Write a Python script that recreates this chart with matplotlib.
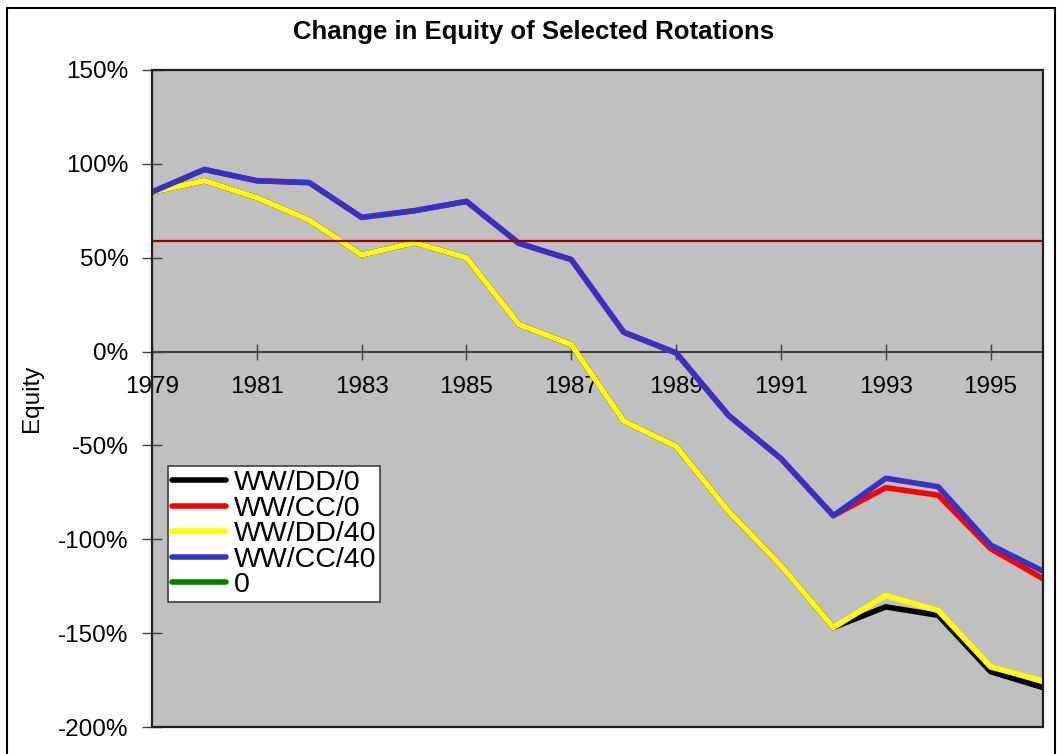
import matplotlib
matplotlib.use("Agg")
import matplotlib.pyplot as plt
from matplotlib.patches import Rectangle
from matplotlib.ticker import FuncFormatter, MultipleLocator

plt.rcParams["font.family"] = ["Liberation Sans", "DejaVu Sans"]

# ---- data (equity change, %) ----
years = list(range(1979, 1997))
ww_dd_0 = [85, 91, 82, 70, 51.5, 58, 50, 14.5, 3.7, -37, -50.5, -85, -114, -147,
           -136, -140.5, -170.5, -179]
ww_cc_0 = [85, 97, 91, 90, 71.5, 75, 80, 57.7, 49, 10.3, -0.7, -34, -57, -87.4,
           -72.5, -76.5, -105, -121]
ww_dd_40 = [85, 91, 82, 70, 51.5, 58, 50, 14.5, 3.7, -37, -50.5, -85, -114, -147,
            -130, -138, -168, -175.5]
ww_cc_40 = [85, 97, 91, 90, 71.5, 75, 80, 57.7, 49, 10.3, -0.7, -34, -57, -87.4,
            -67.5, -72, -103, -117]
zero_series = []  # legend-only series, nothing visible in the chart
ref_level = 59  # dark red reference line

series_names = ["WW/DD/0", "WW/CC/0", "WW/DD/40", "WW/CC/40", "0"]
series_colors = ["#000000", "#ff0000", "#ffff00", "#3333cc", "#008000"]

FS = 17.5

fig = plt.figure(figsize=(10.63, 7.54), dpi=100)
ax = fig.add_axes([152 / 1063, 1 - 727 / 754, (1043 - 152) / 1063, (727 - 70) / 754])
ax.set_facecolor("#c0c0c0")

lw = 4
ax.plot(years, ww_dd_0, color=series_colors[0], lw=lw, label=series_names[0], zorder=3)
ax.plot(years, ww_cc_0, color=series_colors[1], lw=lw, label=series_names[1], zorder=3)
ax.plot(years, ww_dd_40, color=series_colors[2], lw=lw, label=series_names[2], zorder=4)
ax.plot(years, ww_cc_40, color=series_colors[3], lw=lw, label=series_names[3], zorder=4)
ax.plot(zero_series, zero_series, color=series_colors[4], lw=lw, label=series_names[4])
ax.axhline(ref_level, color="#a00000", lw=1.6, zorder=5)

ax.set_xlim(1979, 1996)
ax.set_ylim(-200, 150)
ax.yaxis.set_major_locator(MultipleLocator(50))
ax.yaxis.set_major_formatter(FuncFormatter(lambda v, p: f"{v:.0f}%"))
ax.set_xticks(years[::2])

# x axis through zero, frame drawn separately
ax.spines["bottom"].set_position(("data", 0))
ax.spines["bottom"].set_color("#404040")
ax.spines["bottom"].set_linewidth(1.5)
ax.spines["bottom"].set_zorder(2)
for s in ["top", "right", "left"]:
    ax.spines[s].set_visible(False)
ax.add_patch(Rectangle((0, 0), 1, 1, transform=ax.transAxes, fill=False,
                       edgecolor="#202020", lw=1.6, clip_on=False, zorder=6))

ax.tick_params(axis="x", direction="inout", length=11, width=1, color="#404040",
               labelsize=FS, pad=12)
ax.tick_params(axis="y", direction="inout", length=14, width=1, color="#404040",
               labelsize=FS, pad=10)

ax.set_ylabel("Equity", fontsize=FS)
ax.yaxis.set_label_coords(-0.122, 0.5)

fig.text(0.502, 0.957, "Change in Equity of Selected Rotations", ha="center",
         va="center", fontsize=18.5, fontweight="bold")

leg = ax.legend(loc="upper left", bbox_to_anchor=(16 / 891, (727 - 466) / 657),
                fontsize=20.5, frameon=True, fancybox=False, framealpha=1,
                edgecolor="#404040", borderpad=0.15, labelspacing=-0.02,
                handlelength=1.9, handletextpad=0.25, borderaxespad=0)
leg.get_frame().set_linewidth(1.2)
leg.set_zorder(7)
for h in leg.get_lines():
    h.set_solid_capstyle("round")

# outer chart border
fig.patches.append(Rectangle((7 / 1063, -0.02), (1055 - 7) / 1063, 1 - 8 / 754 + 0.02,
                             transform=fig.transFigure, fill=False,
                             edgecolor="black", lw=1.5))

fig.savefig("out.png", dpi=100)
